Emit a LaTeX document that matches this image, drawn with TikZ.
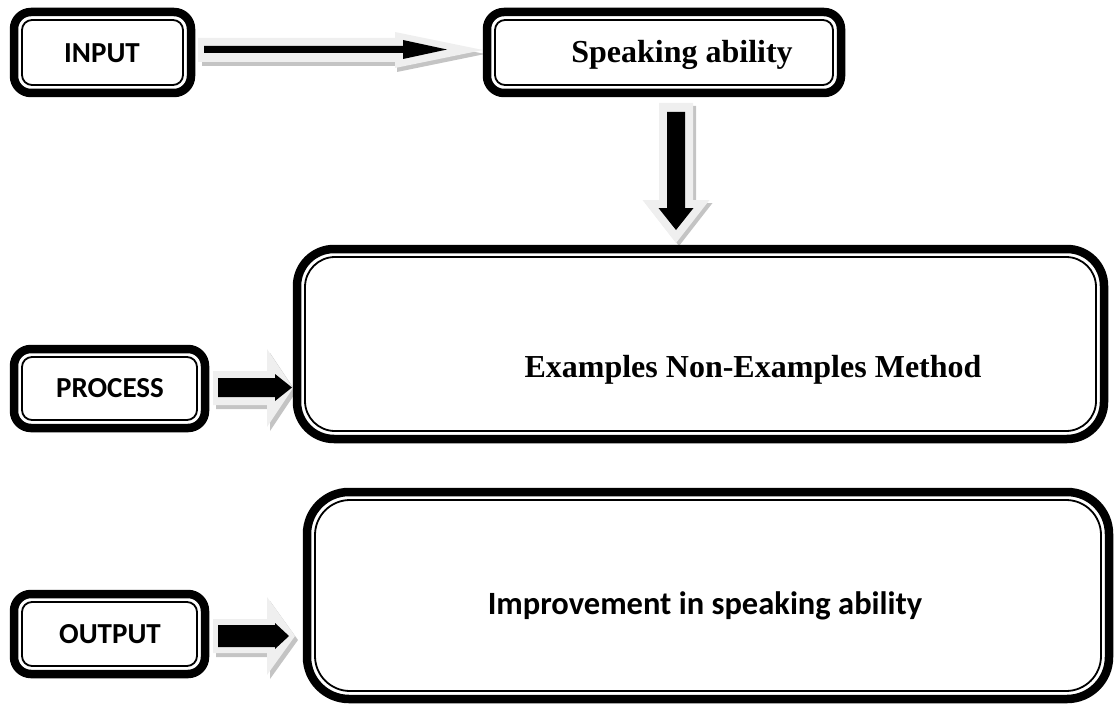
\documentclass[tikz,border=0pt]{standalone}
\usepackage{fontspec}
\newfontfamily\carl{Carlito}
\newfontfamily\tms{Liberation Serif}
\definecolor{lightarrow}{HTML}{EFEFEF}
\definecolor{shadowarrow}{HTML}{C4C4C4}
\tikzset{
  outerline/.style={line width=8.5pt},
  innerline/.style={line width=1.8pt},
  sanslab/.style={font=\carl\bfseries\fontsize{29}{31}\selectfont, anchor=base, inner sep=0pt},
  bigsans/.style={font=\carl\bfseries\fontsize{32.5}{34}\selectfont, anchor=base, inner sep=0pt},
  seriflab/.style={font=\tms\bfseries\fontsize{32}{34}\selectfont, anchor=base, inner sep=0pt},
  lightfill/.style={fill=lightarrow},
  shadowfill/.style={fill=shadowarrow},
  blackfill/.style={fill=black}
}
% double-bordered rounded box: x1 y1 x2 y2 outer-radius inner-radius
\newcommand\dbox[6]{%
  \draw[outerline, rounded corners=#5pt] (#1+4,#2+4) rectangle (#3-4,#4-4);
  \draw[innerline, rounded corners=#6pt] (#1+12,#2+12) rectangle (#3-12,#4-12);}
% right block arrow: style, x0, xbase, xtip, ycenter, shaft half, head half
\newcommand\rarrow[7]{%
  \fill[#1] (#2,#5-#6) -- (#3,#5-#6) -- (#3,#5-#7) -- (#4,#5) -- (#3,#5+#7) -- (#3,#5+#6) -- (#2,#5+#6) -- cycle;}
% down block arrow: style, y0, ybase, ytip, xcenter, shaft half, head half
\newcommand\darrow[7]{%
  \fill[#1] (#5-#6,#2) -- (#5-#6,#3) -- (#5-#7,#3) -- (#5,#4) -- (#5+#7,#3) -- (#5+#6,#3) -- (#5+#6,#2) -- cycle;}
\begin{document}
\begin{tikzpicture}[x=1pt,y=-1pt]
\useasboundingbox (0,0) rectangle (1116,706);

% ---- arrows ----
% INPUT -> Speaking ability
\rarrow{shadowfill, shift={(2,4)}}{200}{395}{483}{50}{12}{18}
\rarrow{lightfill}{198}{395}{483}{50}{12}{18}
\rarrow{blackfill}{204}{403}{447}{49.5}{3.5}{9.5}
% Speaking ability -> Examples Non-Examples Method
\darrow{shadowfill, shift={(3,3)}}{103}{200}{243}{676}{17}{33.5}
\darrow{lightfill}{103}{200}{243}{676}{17}{33.5}
\darrow{blackfill}{112}{208}{230}{676}{9}{17.5}
% PROCESS -> method
\rarrow{shadowfill, shift={(3,4)}}{213}{267}{293}{388}{17}{39}
\rarrow{lightfill}{213}{267}{293}{388}{17}{39}
\rarrow{blackfill}{218}{275}{292}{387.5}{9.5}{13.5}
% OUTPUT -> improvement
\rarrow{shadowfill, shift={(3,4)}}{213}{267}{295}{636}{17}{39}
\rarrow{lightfill}{213}{267}{295}{636}{17}{39}
\rarrow{blackfill}{218}{275}{289}{636}{11}{13}

% ---- boxes ----
\dbox{10}{8}{195}{97}{17}{10}
\dbox{483}{8}{845}{97}{17}{10}
\dbox{10}{345}{209}{432}{17}{10}
\dbox{10}{590}{209}{678}{17}{10}
\dbox{293}{245}{1108}{443}{37}{30}
\dbox{303}{488}{1113}{703}{42}{35}

% ---- labels ----
\node[sanslab] (input) at (102,63) {INPUT};
\node[seriflab] (speak) at (682,63) {Speaking ability};
\node[sanslab] (process) at (110,397) {PROCESS};
\node[sanslab] (output) at (110,643) {OUTPUT};
\node[seriflab] (method) at (753,377) {Examples Non-Examples Method};
\node[bigsans] (improve) at (705,614) {Improvement in speaking ability};
\end{tikzpicture}
\end{document}
